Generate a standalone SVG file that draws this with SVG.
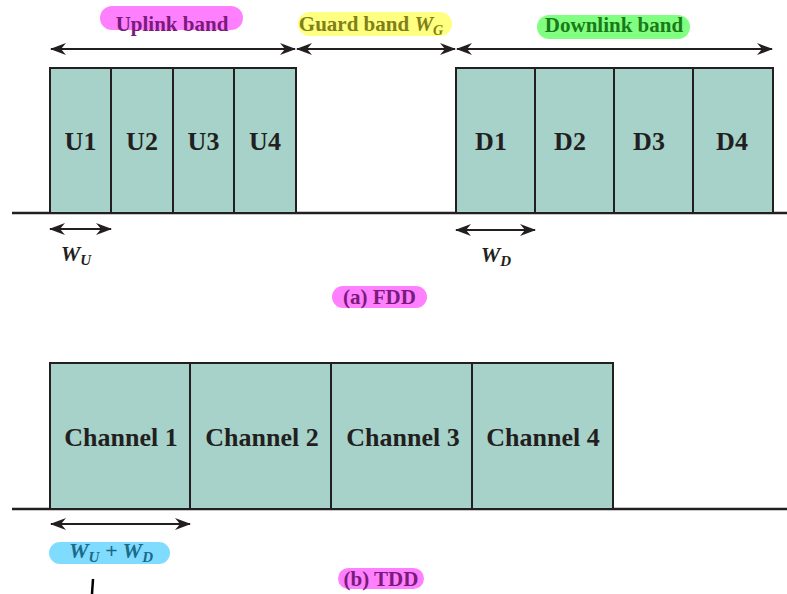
<svg xmlns="http://www.w3.org/2000/svg" width="787" height="594" viewBox="0 0 787 594">
<defs>
<marker id="ah" viewBox="0 0 16 12" refX="15" refY="6" markerWidth="16" markerHeight="12" markerUnits="userSpaceOnUse" orient="auto-start-reverse">
<path d="M0,0 L16,6 L0,12 L5,6 Z" fill="#231f20"/>
</marker>
</defs>
<style>
.box{fill:#a6d2ca;stroke:#231f20;stroke-width:2}
.base{stroke:#231f20;stroke-width:2.5;fill:none}
.arr{stroke:#231f20;stroke-width:2;fill:none;marker-start:url(#ah);marker-end:url(#ah)}
.lbl{font-family:"Liberation Serif",serif;font-weight:bold;font-size:26px;fill:#231f20;text-anchor:middle}
.cap{font-family:"Liberation Serif",serif;font-weight:bold;font-size:21px;text-anchor:middle}
.w{font-family:"Liberation Serif",serif;font-weight:bold;font-style:italic;font-size:22px;fill:#231f20;text-anchor:middle}
</style>
<g id="baselines">
<line class="base" x1="12" y1="213" x2="787" y2="213"/>
<line class="base" x1="12" y1="509" x2="787" y2="509"/>
</g>
<g id="U1"><rect class="box" x="50" y="68" width="61" height="145"/><text class="lbl" x="80.5" y="150">U1</text></g>
<g id="U2"><rect class="box" x="111" y="68" width="62" height="145"/><text class="lbl" x="142" y="150">U2</text></g>
<g id="U3"><rect class="box" x="173" y="68" width="61" height="145"/><text class="lbl" x="203.5" y="150">U3</text></g>
<g id="U4"><rect class="box" x="234" y="68" width="62" height="145"/><text class="lbl" x="265" y="150">U4</text></g>
<g id="D1"><rect class="box" x="456" y="68" width="79" height="145"/><text class="lbl" x="491" y="150">D1</text></g>
<g id="D2"><rect class="box" x="535" y="68" width="79" height="145"/><text class="lbl" x="570" y="150">D2</text></g>
<g id="D3"><rect class="box" x="614" y="68" width="79" height="145"/><text class="lbl" x="649" y="150">D3</text></g>
<g id="D4"><rect class="box" x="693" y="68" width="80" height="145"/><text class="lbl" x="732" y="150">D4</text></g>
<g id="Ch1"><rect class="box" x="50" y="363" width="140" height="146"/><text class="lbl" x="121" y="446">Channel 1</text></g>
<g id="Ch2"><rect class="box" x="190" y="363" width="141" height="146"/><text class="lbl" x="262" y="446">Channel 2</text></g>
<g id="Ch3"><rect class="box" x="331" y="363" width="141" height="146"/><text class="lbl" x="403" y="446">Channel 3</text></g>
<g id="Ch4"><rect class="box" x="472" y="363" width="141" height="146"/><text class="lbl" x="543" y="446">Channel 4</text></g>
<g id="connectors">
<line class="arr" x1="51" y1="49" x2="295" y2="49"/>
<line class="arr" x1="297" y1="49" x2="455" y2="49"/>
<line class="arr" x1="457" y1="49" x2="772" y2="49"/>
<line class="arr" x1="50" y1="229" x2="111" y2="229"/>
<line class="arr" x1="456" y1="230" x2="535" y2="230"/>
<line class="arr" x1="51" y1="524" x2="190" y2="524"/>
</g>
<g id="uplink-label"><rect x="100" y="6" width="143" height="24" rx="12" fill="#ff80ff"/><text class="cap" x="172" y="31" fill="#7a1a7a">Uplink band</text></g>
<g id="guard-label"><rect x="298" y="12" width="154" height="24" rx="12" fill="#ffff80"/><text class="cap" x="371" y="31" fill="#80801a">Guard band <tspan font-style="italic">W</tspan><tspan font-style="italic" font-size="14" dy="4">G</tspan></text></g>
<g id="downlink-label"><rect x="537" y="15" width="153" height="24" rx="12" fill="#80ff80"/><text class="cap" x="614" y="32" fill="#1a7a1a">Downlink band</text></g>
<g id="wu-label"><text class="w" x="76" y="261">W<tspan font-size="15" dy="4">U</tspan></text></g>
<g id="wd-label"><text class="w" x="496" y="262">W<tspan font-size="15" dy="4">D</tspan></text></g>
<g id="fdd-label"><rect x="332" y="286" width="95" height="22" rx="11" fill="#ff80ff"/><text class="cap" x="379.5" y="304" fill="#7a1a7a">(a) FDD</text></g>
<g id="wuwd-label"><rect x="49" y="542" width="121" height="22" rx="11" fill="#80dcff"/><text class="w" x="111" y="558" style="fill:#1a6a8a">W<tspan font-size="15" dy="4">U</tspan><tspan dy="-4"> + W</tspan><tspan font-size="15" dy="4">D</tspan></text></g>
<g id="tdd-label"><rect x="338" y="568" width="86" height="21" rx="10.5" fill="#ff80ff"/><text class="cap" x="381" y="586" fill="#7a1a7a">(b) TDD</text></g>
<line x1="93" y1="579" x2="92" y2="594" stroke="#000" stroke-width="2.5"/>
</svg>
